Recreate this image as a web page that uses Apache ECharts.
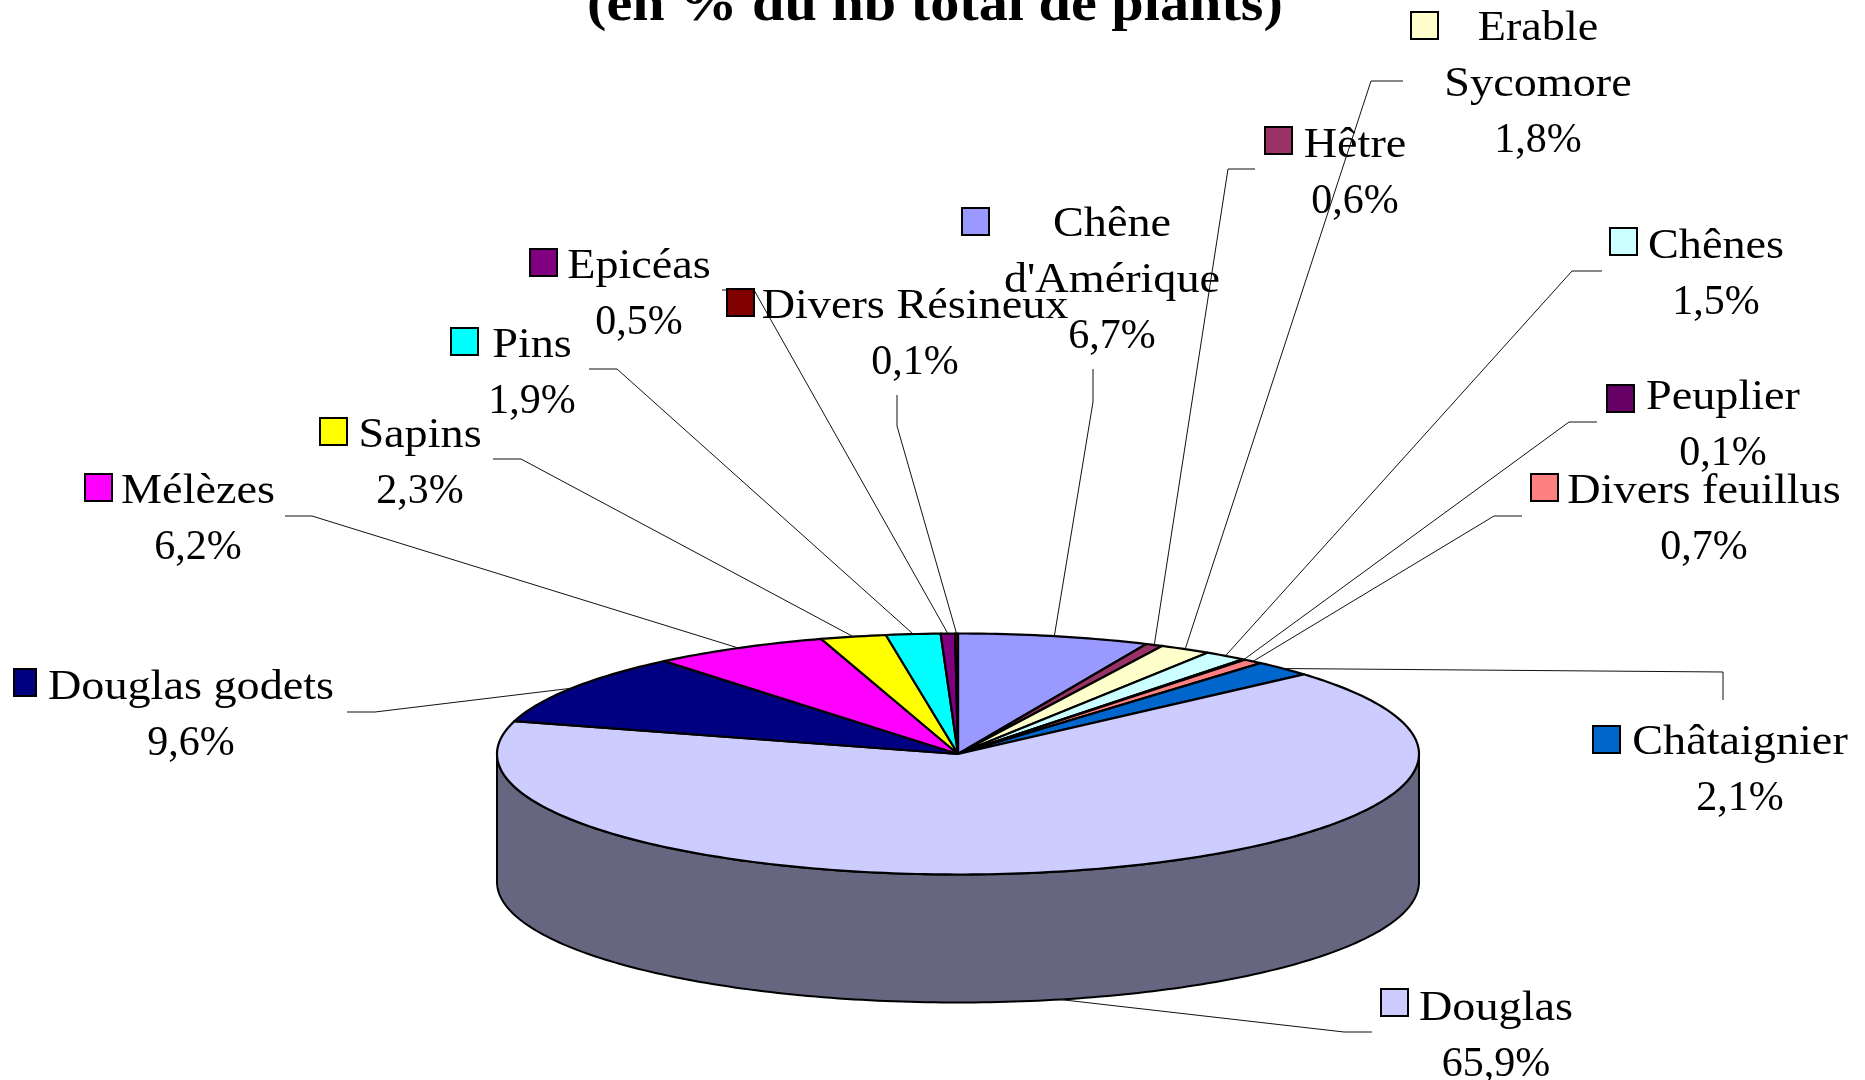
<!DOCTYPE html>
<html>
<head>
<meta charset="utf-8">
<style>
  html, body { margin: 0; padding: 0; background: #fff; }
  #chart { width: 1865px; height: 1080px; }
</style>
<script src="https://cdn.jsdelivr.net/npm/echarts@6/dist/echarts.min.js"></script>
</head>
<body>
<div id="chart"></div>
<script>
// data, clockwise from 12 o'clock
var names = ["Chêne\nd'Amérique", "Hêtre", "Erable\nSycomore", "Chênes", "Peuplier", "Divers feuillus", "Châtaignier",
  "Douglas", "Douglas godets", "Mélèzes", "Sapins", "Pins", "Epicéas", "Divers Résineux"];
var values = [6.7, 0.6, 1.8, 1.5, 0.1, 0.7, 2.1, 65.9, 9.6, 6.2, 2.3, 1.9, 0.5, 0.1];
var colors = ["#9999ff", "#993366", "#ffffcc", "#ccffff", "#660066", "#ff8080", "#0066cc",
  "#ccccff", "#000080", "#ff00ff", "#ffff00", "#00ffff", "#800080", "#800000"];
var sideColors = ["#4d4d80", "#4d1a33", "#808066", "#668080", "#330033", "#804040", "#003366",
  "#666680", "#000040", "#800080", "#808000", "#008080", "#400040", "#400000"];

// label placement: swatch x, swatch y, text centre x, first line centre y
var labelPos = [[962, 208, 1112, 222], [1265, 127, 1355, 143], [1411, 12, 1538, 26], [1610, 228, 1716, 244],
  [1607, 385, 1723, 395], [1531, 474, 1704, 489], [1593, 726, 1740, 740], [1381, 989, 1496, 1006],
  [14, 669, 191, 685], [85, 474, 198, 489], [320, 418, 420, 433], [451, 328, 532, 343],
  [530, 249, 639, 264], [727, 289, 915, 304]];
// leader line bends, from the label towards the pie
var leaderPts = [[[1093, 369], [1093, 402]], [[1255, 169], [1228, 169]], [[1403, 81], [1371, 81]], [[1602, 271], [1572, 271]],
  [[1597, 422], [1569, 422]], [[1522, 516], [1494, 516]], [[1723, 700], [1723, 672]], [[1372, 1032], [1344, 1032]],
  [[347, 712], [375, 712]], [[285, 516], [312, 516]], [[493, 459], [521, 459]], [[589, 369], [617, 369]],
  [[722, 290], [754, 290]], [[897, 395], [897, 426]]];

var cx = 958, cy = 754, rx = 461, ry = 120.5, depth = 128;
var lineH = 56;
var total = values.reduce(function (a, b) { return a + b; }, 0);

function startAngle(i) {
  var sum = 0;
  for (var k = 0; k < i; k++) sum += values[k];
  return sum / total * 360;
}
function edgePoint(deg, dy) {
  var a = deg * Math.PI / 180;
  return [cx + rx * Math.sin(a), cy - ry * Math.cos(a) + (dy || 0)];
}
function arcPoints(from, to, dy) {
  var pts = [];
  var n = Math.max(2, Math.ceil(Math.abs(to - from)));
  for (var k = 0; k <= n; k++) pts.push(edgePoint(from + (to - from) * k / n, dy));
  return pts;
}

function renderSide(params, api) {
  var i = params.dataIndex;
  var a0 = Math.max(startAngle(i), 90);
  var a1 = Math.min(startAngle(i) + api.value(0) / total * 360, 270);
  if (a1 <= a0) return null;
  return {
    type: "polygon",
    shape: { points: arcPoints(a0, a1, 0).concat(arcPoints(a1, a0, depth)) },
    style: { fill: sideColors[i], stroke: "#000", lineWidth: 2 }
  };
}
function renderTop(params, api) {
  var i = params.dataIndex;
  var a0 = startAngle(i);
  var a1 = a0 + api.value(0) / total * 360;
  return {
    type: "polygon",
    shape: { points: [[cx, cy]].concat(arcPoints(a0, a1, 0)) },
    style: { fill: colors[i], stroke: "#000", lineWidth: 2.2, lineJoin: "round" }
  };
}
function renderLabel(params, api) {
  var i = params.dataIndex;
  var mid = startAngle(i) + api.value(0) / total * 180;
  // the lower half of the pie is seen through its side, so the line stops at the bottom rim
  var end = mid > 90 && mid < 270 ? edgePoint(mid, depth) : edgePoint(mid, 0);
  var p = labelPos[i];
  var top = p[3] - lineH / 2 + 3;
  var nbLines = names[i].split("\n").length;
  return {
    type: "group",
    children: [
      {
        type: "polyline",
        shape: { points: leaderPts[i].concat([end]) },
        style: { fill: null, stroke: "#111", lineWidth: 1 }
      },
      {
        type: "rect",
        shape: { x: p[0], y: p[1], width: i === 8 ? 22 : 27, height: 27 },
        style: { fill: colors[i], stroke: "#000", lineWidth: 2 }
      },
      {
        type: "text",
        x: p[2],
        y: top,
        scaleX: 1.1,
        style: {
          text: names[i],
          font: "42px 'Liberation Serif'",
          fill: "#000",
          align: "center",
          verticalAlign: "top",
          lineHeight: lineH
        }
      },
      {
        type: "text",
        x: p[2],
        y: top + nbLines * lineH,
        style: {
          text: api.value(0).toFixed(1).replace(".", ",") + "%",
          font: "42px 'Liberation Serif'",
          fill: "#000",
          align: "center",
          verticalAlign: "top",
          lineHeight: lineH
        }
      }
    ]
  };
}

var chart = echarts.init(document.getElementById("chart"), null, { renderer: "canvas" });
var seriesData = values.map(function (v) { return [v]; });
chart.setOption({
  animation: false,
  backgroundColor: "#fff",
  graphic: [{
    type: "text",
    x: 935,
    y: 33,
    scaleX: 1.12,
    z: 10,
    style: {
      text: "(en % du nb total de plants)",
      font: "bold 52px 'Liberation Serif'",
      fill: "#000",
      align: "center",
      verticalAlign: "bottom"
    }
  }],
  series: [
    { type: "custom", coordinateSystem: "none", silent: true, z: 1, data: seriesData, renderItem: renderSide },
    { type: "custom", coordinateSystem: "none", silent: true, z: 2, data: seriesData, renderItem: renderTop },
    { type: "custom", coordinateSystem: "none", silent: true, z: 3, data: seriesData, renderItem: renderLabel }
  ]
});
</script>
</body>
</html>
